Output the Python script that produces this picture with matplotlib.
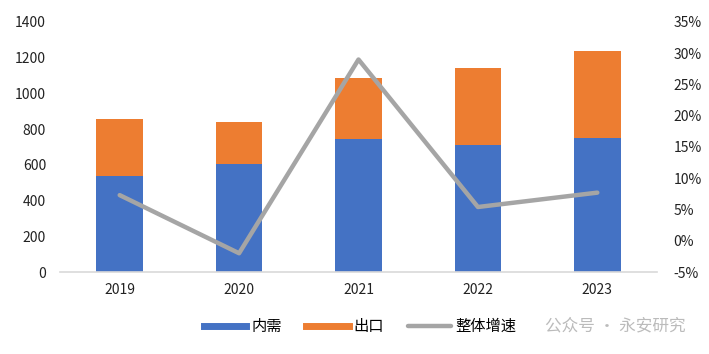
import matplotlib.pyplot as plt
import numpy as np
from matplotlib.lines import Line2D

plt.rcParams['font.family'] = ['Noto Sans CJK SC', 'DejaVu Sans']

years = ["2019", "2020", "2021", "2022", "2023"]
domestic = [535, 603, 745, 711, 752]
export_total = [857, 840, 1088, 1142, 1238]
export = [t - d for t, d in zip(export_total, domestic)]
growth = [7.3, -2.0, 29.0, 5.4, 7.7]

BLUE = "#4472C4"
ORANGE = "#ED7D31"
GRAY = "#A5A5A5"

fig = plt.figure(figsize=(7.09, 3.54), dpi=100)
ax = fig.add_axes([0.0846, 0.2316, 0.8421, 0.7063])
x = np.arange(len(years))
width = 0.39

ax.bar(x, domestic, width=width, color=BLUE, label="内需", zorder=2)
ax.bar(x, export, width=width, bottom=domestic, color=ORANGE, label="出口", zorder=2)
ax.set_xlim(-0.5, len(years) - 0.5)
ax.set_ylim(0, 1400)
ax.set_yticks(range(0, 1401, 200))
ax.set_xticks(x)
ax.set_xticklabels(years)

ax2 = ax.twinx()
ax2.plot(x, growth, color=GRAY, linewidth=3.2, label="整体增速", solid_capstyle="round", zorder=3)
ax2.set_ylim(-5, 35)
ax2.set_yticks(range(-5, 36, 5))
ax2.set_yticklabels([f"{v}%" for v in range(-5, 36, 5)])

for a in (ax, ax2):
    for s in a.spines.values():
        s.set_visible(False)
    a.tick_params(length=0, labelsize=10, colors="#222222")
ax.spines["bottom"].set_visible(True)
ax.spines["bottom"].set_color("#D9D9D9")
ax.spines["bottom"].set_linewidth(1.2)
ax.tick_params(axis="x", pad=8)
ax.tick_params(axis="y", pad=10)
ax2.tick_params(axis="y", pad=12)

labels = ["内需", "出口", "整体增速"]
handles = [Line2D([0], [0], color=BLUE, lw=5), Line2D([0], [0], color=ORANGE, lw=5),
           Line2D([0], [0], color=GRAY, lw=3.2, solid_capstyle="round")]
fig.legend(handles, labels, loc="center", bbox_to_anchor=(0.508, 0.078), ncol=3, frameon=False,
           fontsize=11, handlelength=2.8, handletextpad=0.3, columnspacing=1.6)

fig.text(0.769, 0.078, "公众号 · 永安研究", color="#BBBBBB", fontsize=12, va="center", ha="left")

fig.savefig("out.png", dpi=100)
